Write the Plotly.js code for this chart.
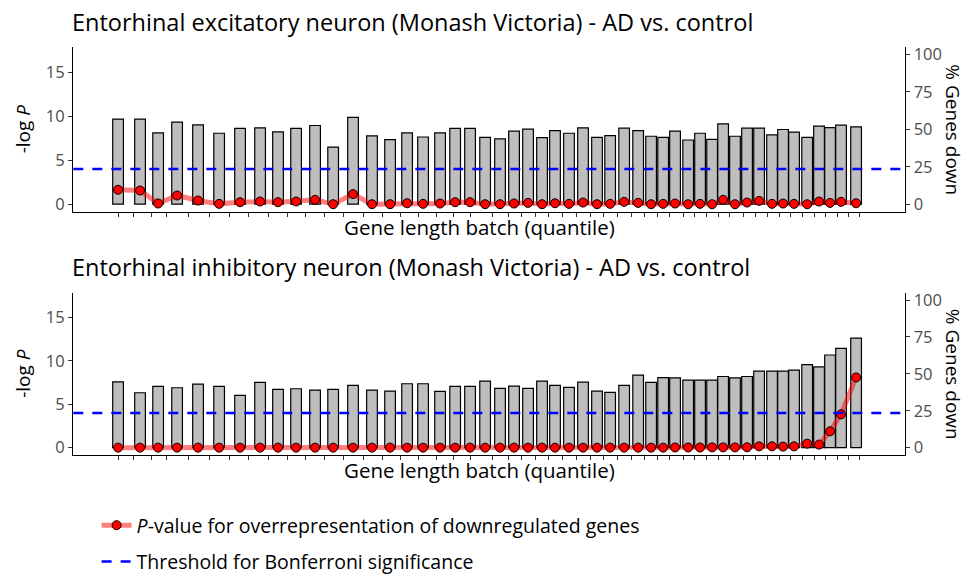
<!DOCTYPE html>
<html>
<head>
<meta charset="utf-8">
<script src="https://cdn.plot.ly/plotly-3.0.1.min.js"></script>
<style>html,body{margin:0;padding:0;background:#fff}</style>
</head>
<body>
<div id="chart" style="width:966px;height:577px"></div>
<script>
// Gene length batch positions (continuous x, batch 1..50)
const batchPos = [1.00,2.46,3.66,4.92,6.31,7.71,9.10,10.43,11.62,12.82,14.08,15.28,16.60,17.86,19.06,20.19,21.25,22.38,23.38,24.37,
  25.37,26.36,27.29,28.22,29.15,30.01,30.94,31.87,32.80,33.67,34.60,35.53,36.39,37.19,37.98,38.85,39.64,40.44,41.17,41.96,
  42.76,43.56,44.42,45.15,45.88,46.75,47.54,48.27,49.00,50.00];
const tickPos = [1.00,2.00,3.19,4.19,5.65,7.04,8.37,9.63,10.96,12.22,13.42,14.68,15.94,17.27,18.53,19.72,20.92,22.11,23.24,24.37,
  25.83,26.89,27.76,28.69,29.55,30.48,31.41,32.34,33.20,34.13,35.06,35.92,36.79,37.58,38.51,39.24,40.04,40.84,41.57,42.50,
  43.29,44.09,44.89,45.62,46.42,47.21,47.94,48.74,49.47,50.20];

// Excitatory neuron panel
const pctDownExc = [56.9,56.9,47.6,54.8,53.0,47.4,50.6,51.0,48.3,50.6,52.6,38.2,58.0,45.6,43.1,47.6,44.9,47.6,50.6,50.6,
  44.7,43.6,48.8,50.1,44.5,49.2,47.4,51.0,44.7,45.8,50.8,49.2,45.4,44.7,48.8,42.9,47.4,43.3,53.7,45.4,
  50.8,50.8,46.3,49.9,48.1,44.7,52.1,51.2,52.8,51.7];
const logPExc = [1.64,1.56,0.08,0.99,0.42,0.04,0.23,0.31,0.23,0.31,0.50,0.00,1.15,0.00,0.00,0.11,0.04,0.08,0.23,0.23,
  0.00,0.00,0.08,0.15,0.00,0.11,0.04,0.19,0.00,0.04,0.27,0.15,0.00,0.04,0.08,0.00,0.04,0.00,0.50,0.00,
  0.19,0.38,0.04,0.08,0.04,0.00,0.31,0.15,0.27,0.11];

// Inhibitory neuron panel
const pctDownInh = [44.6,37.2,41.5,40.6,43.0,41.5,35.4,44.2,39.5,39.9,39.0,39.5,42.2,39.0,38.3,43.3,43.3,38.1,41.5,41.5,
  45.1,40.1,41.7,40.1,45.1,42.2,40.8,44.4,38.3,37.4,42.2,49.1,44.2,47.5,47.3,45.7,45.7,45.7,48.2,47.3,
  48.2,51.8,51.8,51.8,52.5,56.3,54.7,62.8,67.3,74.2];
const logPInh = [0,0,0,0,0,0,0,0,0,0,0,0,0,0,0,0,0,0,0,0,
  0,0,0,0,0,0,0,0,0,0,0,0,0,0,0.02,0.02,0.02,0.03,0.03,0.03,
  0.04,0.15,0.15,0.12,0.15,0.46,0.35,1.88,3.84,8.09];

const bonferroni = 4.0;
const panelTitles = ['Entorhinal excitatory neuron (Monash Victoria) - AD vs. control',
                     'Entorhinal inhibitory neuron (Monash Victoria) - AD vs. control'];
const leftTicks = [0,5,10,15];
const rightTicks = [0,25,50,75,100];
const seriesName = '<i>P</i>-value for overrepresentation of downregulated genes';
const thresholdName = 'Threshold for Bonferroni significance';

const FONT = '"Open Sans", "Noto Sans", sans-serif';
const pScale = 100/17;

function barTrace(y, xa, ya){
  return {type:'bar', x:batchPos, y:y, xaxis:xa, yaxis:ya, width:0.71,
    marker:{color:'#bebebe', line:{color:'black', width:1.2}}, showlegend:false, hoverinfo:'skip'};
}
function pTrace(y, xa, ya, show){
  return {type:'scatter', mode:'lines+markers', x:batchPos, y:y, xaxis:xa, yaxis:ya,
    name:seriesName, legendgroup:'a', showlegend:show,
    line:{color:'rgba(255,0,0,0.5)', width:5},
    marker:{size:9, color:'#ff0000', line:{color:'black', width:1}}};
}

const data = [
  barTrace(pctDownExc,'x','y'),
  pTrace(logPExc,'x','y2',true),
  barTrace(pctDownInh,'x2','y3'),
  pTrace(logPInh,'x2','y4',false),
  {type:'scatter', mode:'lines', x:[null], y:[null], xaxis:'x', yaxis:'y2', name:thresholdName,
   legendgroup:'b', showlegend:true, line:{color:'#0000ff', width:2.5, dash:'10px,9px'}}
];

const xRange = [-1.97, 53.25];
function xAxis(anchor){
  return {domain:[0.0759,0.9369], range:xRange, anchor:anchor, tickmode:'array', tickvals:tickPos,
    showticklabels:false, ticks:'outside', ticklen:4, tickwidth:1, tickcolor:'#333',
    showline:true, linecolor:'black', linewidth:1.3, showgrid:false, zeroline:false, fixedrange:true};
}
function rightAxis(domain, anchor){
  return {domain:domain, side:'right', anchor:anchor, range:[-0.85*pScale, 17.85*pScale],
    tickmode:'array', tickvals:rightTicks, ticks:'outside', ticklen:4, tickwidth:1, tickcolor:'#333',
    tickfont:{family:FONT, size:16.5, color:'#4d4d4d'},
    showline:true, linecolor:'black', linewidth:1.3, showgrid:false, zeroline:false};
}
function leftAxis(over, anchor){
  return {overlaying:over, side:'left', anchor:anchor, range:[-0.85,17.85],
    tickmode:'array', tickvals:leftTicks, ticks:'outside', ticklen:4, tickwidth:1, tickcolor:'#333',
    tickfont:{family:FONT, size:16.5, color:'#4d4d4d'},
    showline:true, linecolor:'black', linewidth:1.3, showgrid:false, zeroline:false};
}

const topDom = [0.6331,0.9185], botDom = [0.2114,0.4927];
const ann = [];
function addPanelText(title, titleY, dom, xTitleY){
  const cy = (dom[0]+dom[1])/2;
  ann.push({text:title, xref:'paper', yref:'paper', x:70/966, y:titleY, xanchor:'left', yanchor:'middle',
    showarrow:false, font:{family:FONT, size:23.5, color:'black'}});
  ann.push({text:'-log <i>P</i>', xref:'paper', yref:'paper', x:23/966, y:cy, xanchor:'center', yanchor:'middle',
    textangle:-90, showarrow:false, font:{family:FONT, size:19, color:'black'}});
  ann.push({text:'% Genes down', xref:'paper', yref:'paper', x:953/966, y:cy, xanchor:'center', yanchor:'middle',
    textangle:90, showarrow:false, font:{family:FONT, size:19, color:'black'}});
  ann.push({text:'Gene length batch (quantile)', xref:'paper', yref:'paper', x:479/966, y:xTitleY,
    xanchor:'center', yanchor:'middle', showarrow:false, font:{family:FONT, size:20.5, color:'black'}});
}
addPanelText(panelTitles[0], 1-22/577, topDom, 1-227/577);
addPanelText(panelTitles[1], 1-267/577, botDom, 1-470/577);

const layout = {
  width:966, height:577, margin:{l:0,r:0,t:0,b:0,autoexpand:false},
  paper_bgcolor:'white', plot_bgcolor:'rgba(0,0,0,0)',
  font:{family:FONT},
  showlegend:true, barmode:'overlay',
  legend:{x:0.1, y:1-506/577, xanchor:'left', yanchor:'top', orientation:'v', traceorder:'grouped',
    tracegroupgap:8, font:{family:FONT, size:19.5, color:'black'}, bgcolor:'rgba(0,0,0,0)'},
  xaxis:xAxis('y'), xaxis2:xAxis('y3'),
  yaxis:rightAxis(topDom,'x'), yaxis2:leftAxis('y','x'),
  yaxis3:rightAxis(botDom,'x2'), yaxis4:leftAxis('y3','x2'),
  shapes:[
    {type:'line', xref:'x domain', x0:0, x1:1, yref:'y2', y0:bonferroni, y1:bonferroni,
     line:{color:'#0000ff', width:2.5, dash:'10px,9px'}, layer:'above'},
    {type:'line', xref:'x2 domain', x0:0, x1:1, yref:'y4', y0:bonferroni, y1:bonferroni,
     line:{color:'#0000ff', width:2.5, dash:'10px,9px'}, layer:'above'}
  ],
  annotations:ann
};

Plotly.newPlot('chart', data, layout, {staticPlot:true, displayModeBar:false});
</script>
</body>
</html>
